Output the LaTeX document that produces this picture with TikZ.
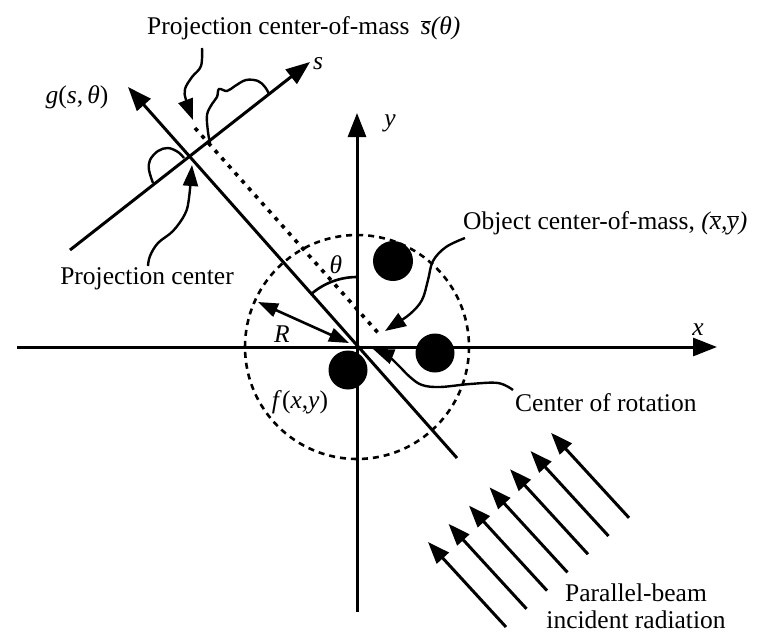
\documentclass[tikz,border=0pt]{standalone}
\usepackage{fontspec}
\setmainfont{Liberation Serif}
\usetikzlibrary{arrows.meta,calc}
\begin{document}
\begin{tikzpicture}[x=1pt,y=-1pt,
  axis/.style={line width=3pt,-{Triangle[length=24pt,width=18pt]}},
  ptr/.style={line width=2.4pt,-{Triangle[length=21pt,width=15pt]}},
  ray/.style={line width=3pt,-{Triangle[length=22pt,width=16pt]}},
  bump/.style={line width=2.4pt},
  lbl/.style={font=\fontsize{25.5}{29}\selectfont,inner sep=0pt},
  blob/.style={circle,fill=black,minimum size=40pt,inner sep=0pt},
  dashcirc/.style={line width=2.6pt,dash pattern=on 6pt off 5pt},
  dotline/.style={line width=3.6pt,dash pattern=on 4pt off 6pt},
  thin line/.style={line width=2.6pt}]
\useasboundingbox (0,0) rectangle (759,634);
% key points
\coordinate (O) at (357,347);
\coordinate (P) at (191,157);
\coordinate (xl) at (17,347);
\coordinate (xr) at (717,347);
\coordinate (yb) at (357,612);
\coordinate (yt) at (357,113);
\coordinate (gb) at (457,458);
\coordinate (gt) at (128,87);
\coordinate (sl) at (70,250);
\coordinate (sr) at (310,62);
\coordinate (dt) at (195,128);
\coordinate (db) at (380,335);
\coordinate (Rs) at (349,343);
\coordinate (Re) at (258,302);
% dashed support circle
\draw[dashcirc] (O) circle[radius=112];
% axes
\draw[axis] (xl) -- (xr);
\draw[axis] (yb) -- (yt);
% detector / projection lines
\draw[axis] (gb) -- (gt);
\draw[axis] (sl) -- (sr);
\draw[dotline] (dt) -- (db);
% objects
\node[blob] (b1) at (393,261) {};
\node[blob,minimum size=39pt] (b2) at (435,353) {};
\node[blob,minimum size=39pt] (b3) at (348,370) {};
% theta arc
\draw[thin line] ($(O)+(0,-70)$) arc[start angle=-90,end angle=-131.6,radius=70];
% R arrow
\draw[thin line,{Triangle[length=20pt,width=14pt]}-{Triangle[length=20pt,width=14pt]}] (Rs) -- (Re);
% projection profile bumps
\draw[bump] plot[smooth,tension=0.6] coordinates {(153,183) (149,170) (150,160) (158,151) (168,148) (178,152) (184,158)};
\draw[bump] plot[smooth,tension=0.6] coordinates {(210,143) (208,132) (207,115) (212,104) (217,97) (219,89) (227,91) (235,86) (246,80) (258,81) (265,87) (269,94)};
% pointers
\draw[ptr] plot[smooth,tension=0.6] coordinates {(202,48) (201,66) (192,77) (185,89) (186,100) (193,120)};
\draw[ptr] plot[smooth,tension=0.6] coordinates {(148,266) (150,256) (158,243) (173,231) (185,214) (189,198) (192,165)};
\draw[ptr] plot[smooth,tension=0.6] coordinates {(465,238) (446,247) (433,261) (428,280) (422,300) (410,314) (394,325) (385,331)};
\draw[ptr] plot[smooth,tension=0.6] coordinates {(513,390) (498,383) (470,384) (440,387) (422,385) (410,377) (399,366) (388,356) (373,349)};
% parallel beam
\foreach \i in {0,...,6}{
  \coordinate (h\i) at ({428+20.5*\i},{542-18.2*\i});
  \coordinate (t\i) at ({506+20.5*\i},{627-18.2*\i});
  \draw[ray] (t\i) -- (h\i);
}
% labels
\node[lbl,anchor=west] (title) at (147,28) {Projection center-of-mass\hspace{0.45em}\textit{$\overline{\textit{s}}$(θ)}};
\node[lbl] (glab) at (77,97) {\textit{g}(\textit{s},\,\textit{θ})};
\node[lbl] (slab) at (318,64) {\textit{s}};
\node[lbl] (ylab) at (390,123) {\textit{y}};
\node[lbl] (xlab) at (698,330) {\textit{x}};
\node[lbl] (thlab) at (336,265) {\textit{θ}};
\node[lbl] (Rlab) at (282,334) {\textit{R}};
\node[lbl] (flab) at (300,402) {\textit{f}(\textit{x},\textit{y})};
\node[lbl] (pclab) at (147,279) {Projection center};
\node[lbl,anchor=west] (oclab) at (463,223) {Object center-of-mass, \textit{($\overline{\textit{x}}$,$\overline{\textit{y}}$)}};
\node[lbl,anchor=west] (crlab) at (515,403) {Center of rotation};
\node[lbl,align=center,font=\fontsize{25.5}{27}\selectfont] (pblab) at (636,606) {Parallel-beam\\incident radiation};
\end{tikzpicture}
\end{document}
